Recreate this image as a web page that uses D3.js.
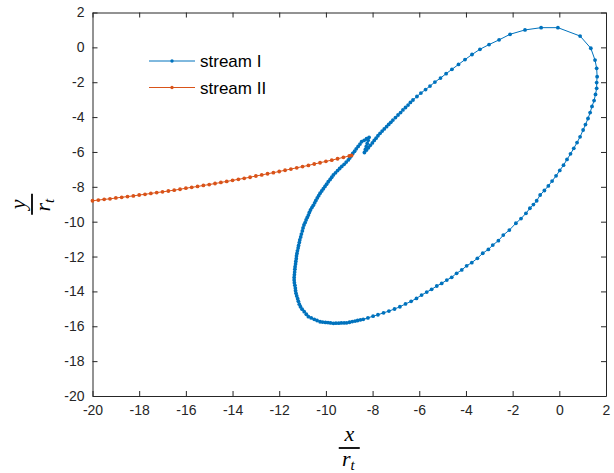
<!DOCTYPE html>
<html>
<head>
<meta charset="utf-8">
<script src="https://cdn.jsdelivr.net/npm/d3@7"></script>
<style>
  body { margin: 0; background: #fff; }
  text { font-family: "Liberation Sans", Arial, sans-serif; }
</style>
</head>
<body>
<svg id="chart"></svg>
<script>
// stream I, one [x/rt, y/rt] pair per marker
var streamI = [
  [-8.93,-6.23],[-8.85,-6.09],[-8.77,-5.96],[-8.70,-5.82],[-8.62,-5.68],[-8.54,-5.55],[-8.47,-5.41],
  [-8.36,-5.33],[-8.26,-5.24],[-8.15,-5.16],
  [-8.19,-5.33],[-8.23,-5.51],[-8.27,-5.68],[-8.31,-5.86],[-8.35,-6.03],
  [-8.26,-5.89],[-8.18,-5.76],[-8.10,-5.62],[-8.01,-5.48],[-7.93,-5.34],[-7.85,-5.21],[-7.77,-5.07],[-7.68,-4.93],
  [-7.59,-4.80],[-7.50,-4.68],[-7.40,-4.55],[-7.31,-4.42],[-7.22,-4.30],[-7.13,-4.17],
  [-7.02,-4.03],[-6.91,-3.88],[-6.80,-3.74],[-6.70,-3.59],[-6.59,-3.45],[-6.48,-3.31],[-6.38,-3.16],[-6.27,-3.02],
  [-6.10,-2.82],[-5.93,-2.62],[-5.73,-2.42],[-5.54,-2.22],[-5.33,-1.99],[-5.09,-1.76],[-4.85,-1.51],
  [-4.60,-1.26],[-4.32,-0.98],[-4.04,-0.70],[-3.74,-0.41],[-3.40,-0.11],[-3.01,0.16],[-2.58,0.43],
  [-2.11,0.75],[-1.47,1.00],[-0.78,1.13],[-0.06,1.13],[0.89,0.65],[1.35,-0.05],[1.53,-0.73],
  [1.60,-1.20],[1.62,-1.68],[1.60,-2.02],[1.60,-2.35],[1.55,-2.70],[1.49,-3.05],[1.40,-3.39],
  [1.32,-3.74],[1.23,-4.08],[1.12,-4.43],[1.02,-4.74],[0.89,-5.13],[0.76,-5.46],[0.62,-5.79],
  [0.48,-6.11],[0.33,-6.43],[0.18,-6.76],[0.02,-7.06],[-0.14,-7.37],[-0.31,-7.67],[-0.47,-7.95],
  [-0.64,-8.21],[-0.82,-8.47],[-0.97,-8.80],[-1.11,-9.02],[-1.26,-9.23],[-1.43,-9.52],[-1.64,-9.82],
  [-1.86,-10.09],[-2.14,-10.48],[-2.40,-10.77],[-2.61,-11.09],[-2.85,-11.34],[-3.04,-11.59],
  [-3.28,-11.81],[-3.51,-12.10],[-3.75,-12.35],[-3.97,-12.53],[-4.18,-12.77],[-4.40,-12.96],
  [-4.61,-13.19],[-4.82,-13.35],[-5.04,-13.54],[-5.25,-13.69],[-5.47,-13.88],[-5.68,-14.04],
  [-5.90,-14.21],[-6.12,-14.40],[-6.35,-14.57],[-6.59,-14.72],[-6.83,-14.88],[-7.06,-15.01],
  [-7.30,-15.13],[-7.53,-15.23],[-7.77,-15.34],[-7.98,-15.42],[-8.20,-15.52],[-8.40,-15.60],
  [-8.52,-15.63],[-8.64,-15.67],[-8.75,-15.70],[-8.87,-15.73],[-8.99,-15.77],[-9.11,-15.80],
  [-9.22,-15.81],[-9.34,-15.81],[-9.45,-15.82],[-9.57,-15.82],[-9.68,-15.83],
  [-9.80,-15.81],[-9.91,-15.79],[-10.02,-15.78],[-10.14,-15.76],[-10.25,-15.74],
  [-10.38,-15.67],[-10.50,-15.60],[-10.63,-15.52],[-10.75,-15.45],
  [-10.84,-15.31],[-10.93,-15.16],[-11.02,-15.02],[-11.09,-14.88],
  [-11.14,-14.73],[-11.18,-14.57],[-11.21,-14.42],[-11.25,-14.26],[-11.28,-14.11],
  [-11.30,-13.96],[-11.31,-13.81],[-11.33,-13.65],[-11.35,-13.50],[-11.36,-13.35],
  [-11.36,-13.20],[-11.35,-13.04],[-11.34,-12.89],[-11.33,-12.73],[-11.32,-12.58],
  [-11.30,-12.43],[-11.29,-12.28],[-11.27,-12.12],[-11.26,-11.97],[-11.24,-11.82],
  [-11.22,-11.67],[-11.19,-11.51],[-11.17,-11.36],[-11.14,-11.20],[-11.12,-11.05],
  [-11.08,-10.88],[-11.05,-10.71],[-11.01,-10.53],[-10.98,-10.36],[-10.94,-10.19],
  [-10.89,-10.05],[-10.85,-9.90],[-10.80,-9.76],[-10.75,-9.62],[-10.71,-9.47],[-10.66,-9.33],
  [-10.60,-9.19],[-10.54,-9.06],[-10.48,-8.92],[-10.43,-8.78],[-10.37,-8.64],[-10.31,-8.51],[-10.25,-8.37],
  [-10.18,-8.24],[-10.11,-8.11],[-10.04,-7.98],[-9.97,-7.85],[-9.90,-7.71],[-9.82,-7.58],[-9.75,-7.45],[-9.68,-7.32],
  [-9.59,-7.20],[-9.50,-7.07],[-9.41,-6.95],[-9.32,-6.83],[-9.22,-6.71],[-9.13,-6.58],[-9.04,-6.46],
  [-8.98,-6.35],[-8.93,-6.23]
];

// stream II
var streamII = [
  [-20,-8.80],[-19.75,-8.76],[-19.5,-8.72],[-19.25,-8.69],[-19,-8.64],[-18.75,-8.60],[-18.5,-8.56],
  [-18.25,-8.52],[-18,-8.47],[-17.75,-8.43],[-17.5,-8.38],[-17.25,-8.33],[-17,-8.29],[-16.75,-8.24],
  [-16.5,-8.19],[-16.25,-8.14],[-16,-8.08],[-15.75,-8.03],[-15.5,-7.98],[-15.25,-7.92],[-15,-7.87],
  [-14.75,-7.81],[-14.5,-7.75],[-14.25,-7.69],[-14,-7.63],[-13.75,-7.57],[-13.5,-7.51],[-13.25,-7.45],
  [-13,-7.38],[-12.75,-7.32],[-12.5,-7.25],[-12.25,-7.19],[-12,-7.12],[-11.75,-7.05],[-11.5,-6.98],
  [-11.25,-6.91],[-11,-6.84],[-10.75,-6.77],[-10.5,-6.69],[-10.25,-6.62],[-10,-6.54],[-9.75,-6.47],
  [-9.5,-6.39],[-9.25,-6.31],[-9,-6.23],[-8.9,-6.20]
];

var seriesNames = ["stream I", "stream II"];
var seriesColors = ["#0072BD", "#D95319"];
var xTicks = [-20, -18, -16, -14, -12, -10, -8, -6, -4, -2, 0, 2];
var yTicks = [-20, -18, -16, -14, -12, -10, -8, -6, -4, -2, 0, 2];

var width = 614, height = 473;
var margin = {left: 92.5, right: 8, top: 12.5, bottom: 77};

var svg = d3.select("#chart")
    .attr("width", width)
    .attr("height", height);

var x = d3.scaleLinear().domain([-20, 2]).range([margin.left, width - margin.right]);
var y = d3.scaleLinear().domain([-20, 2]).range([height - margin.bottom, margin.top]);

var axisColor = "#262626";
var plain = function(d) { return String(d); };   // ascii hyphen like the original

function styleAxis(g) {
  g.selectAll("path, line").attr("stroke", axisColor);
  g.selectAll("text").attr("fill", axisColor).style("font-size", "14px");
}

svg.append("g")
    .attr("transform", "translate(0," + y(-20) + ")")
    .call(d3.axisBottom(x).tickValues(xTicks).tickFormat(plain).tickSize(-5).tickSizeOuter(0).tickPadding(9))
    .call(styleAxis);

svg.append("g")
    .attr("transform", "translate(0," + y(2) + ")")
    .call(d3.axisTop(x).tickValues(xTicks).tickSize(-5).tickSizeOuter(0).tickFormat(""))
    .call(styleAxis);

svg.append("g")
    .attr("transform", "translate(" + x(-20) + ",0)")
    .call(d3.axisLeft(y).tickValues(yTicks).tickFormat(plain).tickSize(-5).tickSizeOuter(0).tickPadding(8))
    .call(styleAxis);

svg.append("g")
    .attr("transform", "translate(" + x(2) + ",0)")
    .call(d3.axisRight(y).tickValues(yTicks).tickSize(-5).tickSizeOuter(0).tickFormat(""))
    .call(styleAxis);

var line = d3.line()
    .x(function(d) { return x(d[0]); })
    .y(function(d) { return y(d[1]); });

[streamI, streamII].forEach(function(data, i) {
  svg.append("path")
      .datum(data)
      .attr("d", line)
      .attr("fill", "none")
      .attr("stroke", seriesColors[i])
      .attr("stroke-width", 1);

  svg.append("g").selectAll("circle")
      .data(data)
      .enter()
      .append("circle")
      .attr("cx", function(d) { return x(d[0]); })
      .attr("cy", function(d) { return y(d[1]); })
      .attr("r", 1.9)
      .attr("fill", seriesColors[i]);
});

// legend
var legend = svg.append("g");
seriesNames.forEach(function(name, i) {
  var ly = 61 + i * 26.5;
  legend.append("line")
      .attr("x1", 149).attr("x2", 195)
      .attr("y1", ly).attr("y2", ly)
      .attr("stroke", seriesColors[i]).attr("stroke-width", 1);
  legend.append("circle")
      .attr("cx", 172).attr("cy", ly).attr("r", 1.7)
      .attr("fill", seriesColors[i]);
  legend.append("text")
      .attr("x", 200).attr("y", ly + 6)
      .style("font-size", "17px")
      .attr("fill", "#000")
      .text(name);
});

// axis labels as fractions
var serif = '"Liberation Serif", "Times New Roman", serif';

function fraction(g, num) {
  g.append("text")
      .attr("x", 0).attr("y", -7)
      .attr("text-anchor", "middle")
      .style("font-family", serif)
      .style("font-style", "italic")
      .style("font-size", "22px")
      .text(num);
  g.append("line")
      .attr("x1", -10.5).attr("x2", 10.5)
      .attr("y1", 0).attr("y2", 0)
      .attr("stroke", "#000").attr("stroke-width", 1.8);
  var den = g.append("text")
      .attr("x", -1).attr("y", 18)
      .attr("text-anchor", "middle")
      .style("font-family", serif)
      .style("font-style", "italic")
      .style("font-size", "22px");
  den.append("tspan").text("r");
  den.append("tspan").attr("dy", 4).style("font-size", "15px").text("t");
}

var xMid = (x(-20) + x(2)) / 2;
var yMid = (y(-20) + y(2)) / 2;

svg.append("g")
    .attr("transform", "translate(" + xMid + ",448)")
    .call(fraction, "x");

svg.append("g")
    .attr("transform", "translate(32," + yMid + ") rotate(-90)")
    .call(fraction, "y");
</script>
</body>
</html>
